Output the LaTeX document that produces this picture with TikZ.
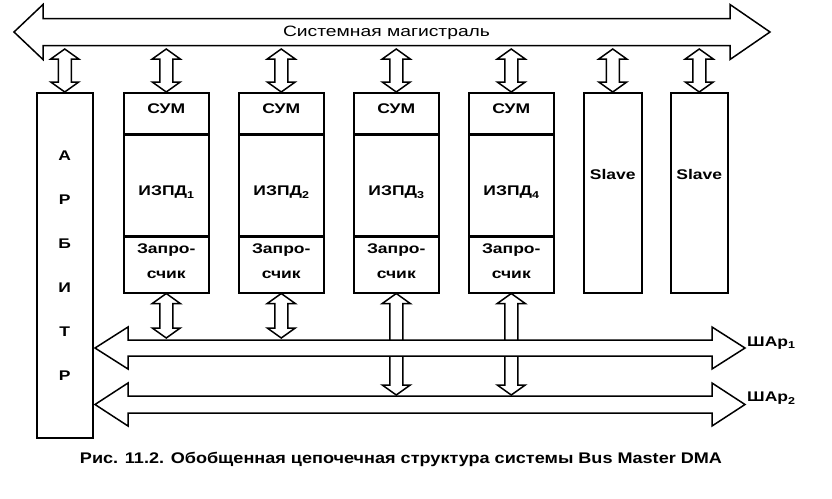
\documentclass[tikz,border=0pt]{standalone}
\usepackage{fontspec}
\setmainfont{Liberation Sans}
\usepackage{graphicx}
\usetikzlibrary{positioning,calc}
\newcommand{\wide}[1]{\scalebox{1.25}[1]{#1}}
\newcommand{\ix}[1]{\raisebox{-2.5pt}{\fontsize{10}{10}\selectfont #1}}
\def\hw{14pt} \def\sw{6.5pt} \def\hl{10pt}
% fat double arrow between two points (top, bottom)
\newcommand{\vfat}[2]{%
  \draw[fat] let \p1=#1, \p2=#2 in (\x1,\y1) -- (\x1+\hw,\y1-\hl) -- (\x1+\sw,\y1-\hl) -- (\x1+\sw,\y2+\hl) -- (\x1+\hw,\y2+\hl) -- (\x1,\y2)
    -- (\x1-\hw,\y2+\hl) -- (\x1-\sw,\y2+\hl) -- (\x1-\sw,\y1-\hl) -- (\x1-\hw,\y1-\hl) -- cycle;}
% bus: x left, x right, y, shaft, head, head length left, head length right
\newcommand{\hbus}[7]{%
  \draw[fat] (#1,#3) -- ++(#6,-#5) -- ++(0,#5-#4) -- (#2-#7,#3-#4) -- ++(0,#4-#5) -- (#2,#3)
    -- ++(-#7,#5) -- ++(0,#4-#5) -- (#1+#6,#3+#4) -- ++(0,#5-#4) -- cycle;}
\begin{document}
\begin{tikzpicture}[x=1pt, y=-1pt, line join=miter,
  fat/.style={draw, line width=1.5pt, fill=white},
  blk/.style={draw, line width=1.5pt, inner sep=0pt, minimum width=85pt},
  lbl/.style={font=\fontsize{14}{16}\selectfont\bfseries, align=center, inner sep=0pt}]
\useasboundingbox (0,0) rectangle (832,498);
\coordinate (sysb) at (0,49);
\coordinate (b1) at (0,338);
\coordinate (b2) at (0,395);

% system bus
\hbus{14}{770}{32}{13.5}{27.5}{29}{40}
\node[anchor=base] (systxt) at (386.5,36.5) {\resizebox{207pt}{\height}{\fontsize{15}{18}\selectfont Системная магистраль}};

% arbiter
\node[blk, minimum width=56pt, minimum height=345pt, anchor=north west, align=center, font=\fontsize{14}{44}\selectfont\bfseries] (arb) at (36,92)
  {\wide{А}\\\wide{Р}\\\wide{Б}\\\wide{И}\\\wide{Т}\\\wide{Р}};

% slaves
\node[blk, minimum width=58pt, minimum height=200pt, anchor=north west] (sl1) at (583,92) {};
\node[blk, minimum width=57pt, minimum height=200pt, anchor=north west] (sl2) at (670,92) {};
\foreach \s in {1,2} \node[lbl] (tsl\s) at ([yshift=18pt]sl\s.center) {\wide{Slave}};

% masters
\foreach \i/\x in {1/123,2/238,3/353,4/468}{
  \node[blk, minimum height=41pt, anchor=north west] (sum\i) at (\x,92) {};
  \node[blk, minimum height=100pt, below=0pt of sum\i] (izpd\i) {};
  \node[blk, minimum height=56pt, below=0pt of izpd\i] (zap\i) {};
  \node[lbl] (tsum\i) at ([yshift=5pt]sum\i.center) {\wide{СУМ}};
  \node[lbl] (tizpd\i) at ([yshift=-7pt]izpd\i.center) {\wide{ИЗПД\ix{\i}}};
  \node[lbl, font=\fontsize{14}{25}\selectfont\bfseries] (tzap\i) at ([yshift=4pt]zap\i.center) {\wide{Запро-}\\\wide{счик}};
}

% links to the system bus
\foreach \nd in {arb,sum1,sum2,sum3,sum4,sl1,sl2} \vfat{(\nd.north |- sysb)}{(\nd.north)};

% arbitration buses
\foreach \i in {3,4} \vfat{(zap\i.south)}{(zap\i.south |- b2)};
\hbus{95}{745}{348}{8}{21}{33}{33}
\hbus{95}{745}{404.5}{8.5}{21.5}{33}{33}
\foreach \i in {1,2} \vfat{(zap\i.south)}{(zap\i.south |- b1)};
\node[lbl, anchor=base west] (shar1) at (747,346) {\wide{ШАр\ix{1}}};
\node[lbl, anchor=base west] (shar2) at (747,401.5) {\wide{ШАр\ix{2}}};

\node[anchor=base] (cap) at (401,463) {\resizebox{642pt}{\height}{\fontsize{15.4}{18}\selectfont\bfseries Рис. 11.2. Обобщенная цепочечная структура системы Bus Master DMA}};
\end{tikzpicture}
\end{document}
